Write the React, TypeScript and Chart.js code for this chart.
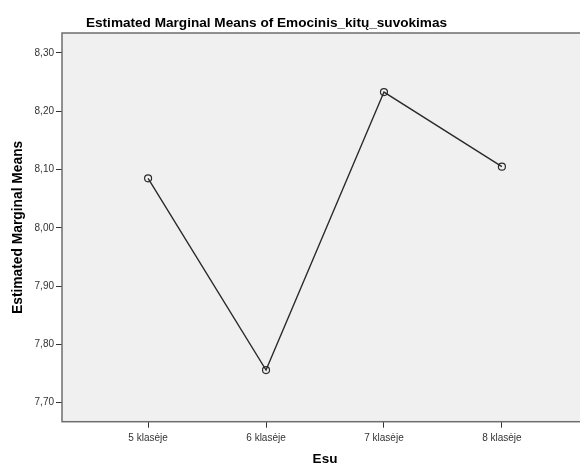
import React, { useEffect, useRef } from "react";
import { Chart, registerables } from "chart.js";

Chart.register(...registerables);

const categories = ["5 klasėje", "6 klasėje", "7 klasėje", "8 klasėje"];
const means = [8.085, 7.756, 8.233, 8.105];
const yTickValues = [7.7, 7.8, 7.9, 8.0, 8.1, 8.2, 8.3];
const chartTitle = "Estimated Marginal Means of Emocinis_kitų_suvokimas";
const xTitle = "Esu";
const yTitle = "Estimated Marginal Means";

const FONT = "Arial, 'Liberation Sans', sans-serif";
const W = 600;
const H = 469;

const framePlugin = {
  id: "spssFrame",
  beforeDraw(chart: any) {
    const { ctx, chartArea } = chart;
    ctx.save();
    ctx.fillStyle = "#ffffff";
    ctx.fillRect(0, 0, chart.width, chart.height);
    ctx.fillStyle = "#f0f0f0";
    ctx.fillRect(chartArea.left, chartArea.top, chartArea.right - chartArea.left, chartArea.bottom - chartArea.top);
    ctx.restore();
  },
  beforeDatasetsDraw(chart: any) {
    const { ctx, chartArea } = chart;
    ctx.save();
    ctx.strokeStyle = "#6e6e6e";
    ctx.lineWidth = 1.5;
    ctx.strokeRect(chartArea.left, chartArea.top, chartArea.right - chartArea.left, chartArea.bottom - chartArea.top);
    ctx.restore();
  },
  afterDraw(chart: any) {
    const { ctx } = chart;
    ctx.save();
    ctx.fillStyle = "#000000";
    ctx.font = `bold 13.6px ${FONT}`;
    ctx.textAlign = "center";
    ctx.textBaseline = "alphabetic";
    ctx.fillText(chartTitle, 266.5, 27);
    ctx.restore();
  },
};

export default function App() {
  const ref = useRef<HTMLCanvasElement | null>(null);

  useEffect(() => {
    if (!ref.current) return;
    const chart = new Chart(ref.current, {
      type: "line",
      data: {
        datasets: [
          {
            data: means.map((y, i) => ({ x: i, y })),
            borderColor: "#2b2b2b",
            borderWidth: 1.4,
            pointRadius: 3.5,
            pointBorderWidth: 1.2,
            pointBackgroundColor: "rgba(0,0,0,0)",
            pointBorderColor: "#2b2b2b",
            tension: 0,
            fill: false,
          },
        ],
      },
      options: {
        responsive: false,
        animation: false,
        devicePixelRatio: 1,
        layout: { padding: { top: 33, right: 12, left: 0, bottom: 0 } },
        plugins: {
          legend: { display: false },
          tooltip: { enabled: false },
          title: { display: false },
        },
        scales: {
          x: {
            type: "linear",
            min: -0.73,
            max: 3.73,
            afterBuildTicks: (s: any) => {
              s.ticks = categories.map((_, i) => ({ value: i }));
            },
            afterFit: (s: any) => {
              s.height = 47.3;
            },
            ticks: {
              callback: (v: any) => categories[Number(v)],
              font: { family: FONT, size: 10 },
              color: "#333333",
              padding: 5,
              maxRotation: 0,
              autoSkip: false,
            },
            grid: {
              drawOnChartArea: false,
              drawTicks: true,
              tickLength: 6,
              color: "#333333",
              lineWidth: 1,
            },
            border: { display: false },
            title: {
              display: true,
              text: xTitle,
              font: { family: FONT, size: 13.5, weight: "bold" },
              color: "#000000",
              padding: { top: 0, bottom: 2 },
            },
          },
          y: {
            type: "linear",
            min: 7.6674,
            max: 8.3343,
            afterBuildTicks: (s: any) => {
              s.ticks = yTickValues.map((v) => ({ value: v }));
            },
            afterFit: (s: any) => {
              s.width = 62;
            },
            ticks: {
              callback: (v: any) => Number(v).toFixed(2).replace(".", ","),
              font: { family: FONT, size: 10 },
              color: "#333333",
              padding: 2,
            },
            grid: {
              drawOnChartArea: false,
              drawTicks: true,
              tickLength: 6,
              color: "#333333",
              lineWidth: 1,
            },
            border: { display: false },
            title: {
              display: true,
              text: yTitle,
              font: { family: FONT, size: 13.8, weight: "bold" },
              color: "#000000",
              padding: { top: 10, bottom: 0 },
            },
          },
        },
      },
      plugins: [framePlugin],
    });
    return () => chart.destroy();
  }, []);

  return (
    <div
      style={{
        position: "absolute",
        left: 0,
        top: 0,
        width: 580,
        height: 469,
        overflow: "hidden",
        background: "#ffffff",
      }}
    >
      <canvas ref={ref} width={W} height={H} style={{ display: "block", width: W, height: H }} />
    </div>
  );
}
